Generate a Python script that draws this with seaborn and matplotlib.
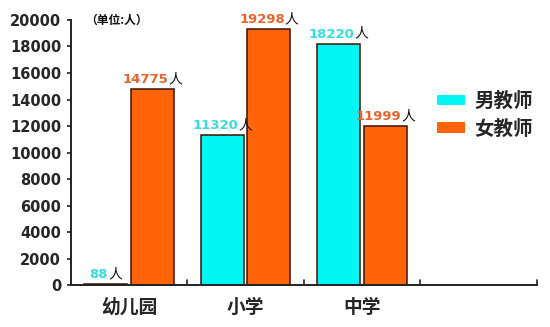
import matplotlib
matplotlib.use("Agg")
import matplotlib.pyplot as plt
import seaborn as sns
import pandas as pd
from matplotlib.patches import Patch
from matplotlib.offsetbox import TextArea, HPacker, AnnotationBbox

# Teacher counts by school level
levels = ["幼儿园", "小学", "中学"]
genders = ["男教师", "女教师"]
male = [88, 11320, 18220]
female = [14775, 19298, 11999]
y_ticks = [0, 2000, 4000, 6000, 8000, 10000, 12000, 14000, 16000, 18000, 20000]

bar_colors = ["#00F5F5", "#FF6408"]
label_colors = ["#3ADCDC", "#E8642E"]
edge_color = "#3A1200"

df = pd.DataFrame({
    "level": levels * 2,
    "gender": [genders[0]] * 3 + [genders[1]] * 3,
    "count": male + female,
})

sns.set_theme(style="white")
plt.rcParams["font.family"] = ["Noto Sans CJK SC", "DejaVu Sans"]

fig = plt.figure(figsize=(5.5, 3.27), dpi=100)
ax = fig.add_axes([0.129, 0.128, 0.847, 0.811])

sns.barplot(data=df, x="level", y="count", hue="gender", order=levels,
            hue_order=genders, palette=bar_colors, width=0.8, gap=0.075,
            edgecolor=edge_color, linewidth=1.1, saturation=1, legend=False,
            ax=ax)

ax.set_xlim(-0.5, 3.5)
ax.set_ylim(0, 20000)
ax.set_yticks(y_ticks)
ax.set_yticklabels([str(v) for v in y_ticks], fontsize=10.5,
                   fontweight="bold", family="DejaVu Sans")
ax.set_xticks([0, 1, 2])
ax.set_xticklabels(levels, fontsize=13.5, fontweight="bold")
ax.tick_params(axis="x", length=0, pad=9)
ax.tick_params(axis="y", length=3, width=1.2, color="#222222", left=True, pad=4)

# boundary ticks between the category slots
for xb in [0.5, 1.5, 2.5, 3.5]:
    ax.plot([xb, xb], [0, 400], color="#222222", lw=1.2, clip_on=False)

for side in ["top", "right"]:
    ax.spines[side].set_visible(False)
for side in ["left", "bottom"]:
    ax.spines[side].set_color("#222222")
    ax.spines[side].set_linewidth(1.4)
ax.set_xlabel("")
ax.set_ylabel("")

# value labels: coloured number followed by 人
for container, col in zip(ax.containers, label_colors):
    for bar in container:
        h = bar.get_height()
        cx = bar.get_x() + bar.get_width() / 2
        num = TextArea(f"{int(round(h))}", textprops=dict(
            color=col, fontsize=9.5, fontweight="bold", family="DejaVu Sans"))
        unit = TextArea("人", textprops=dict(color="#111111", fontsize=10))
        box = HPacker(children=[num, unit], align="baseline", pad=0, sep=0)
        ab = AnnotationBbox(box, (cx, h), xybox=(0, 2), xycoords="data",
                            boxcoords="offset points", box_alignment=(0.5, 0),
                            frameon=False, pad=0, annotation_clip=False)
        ax.add_artist(ab)

ax.text(0.03, 1.0, "（单位:人）", transform=ax.transAxes, fontsize=8.5,
        fontweight="bold", ha="left", va="center", color="#111111")

handles = [Patch(facecolor=c, edgecolor="none", label=g)
           for c, g in zip(bar_colors, genders)]
leg = ax.legend(handles=handles, loc="upper left",
                bbox_to_anchor=(0.785, 0.73), frameon=False,
                handlelength=1.45, handleheight=0.45, handletextpad=0.5,
                labelspacing=0.45, borderpad=0, borderaxespad=0,
                prop=dict(size=14, weight="bold",
                          family=["Noto Sans CJK SC", "DejaVu Sans"]))

fig.savefig("out.png", dpi=100, facecolor="white")
